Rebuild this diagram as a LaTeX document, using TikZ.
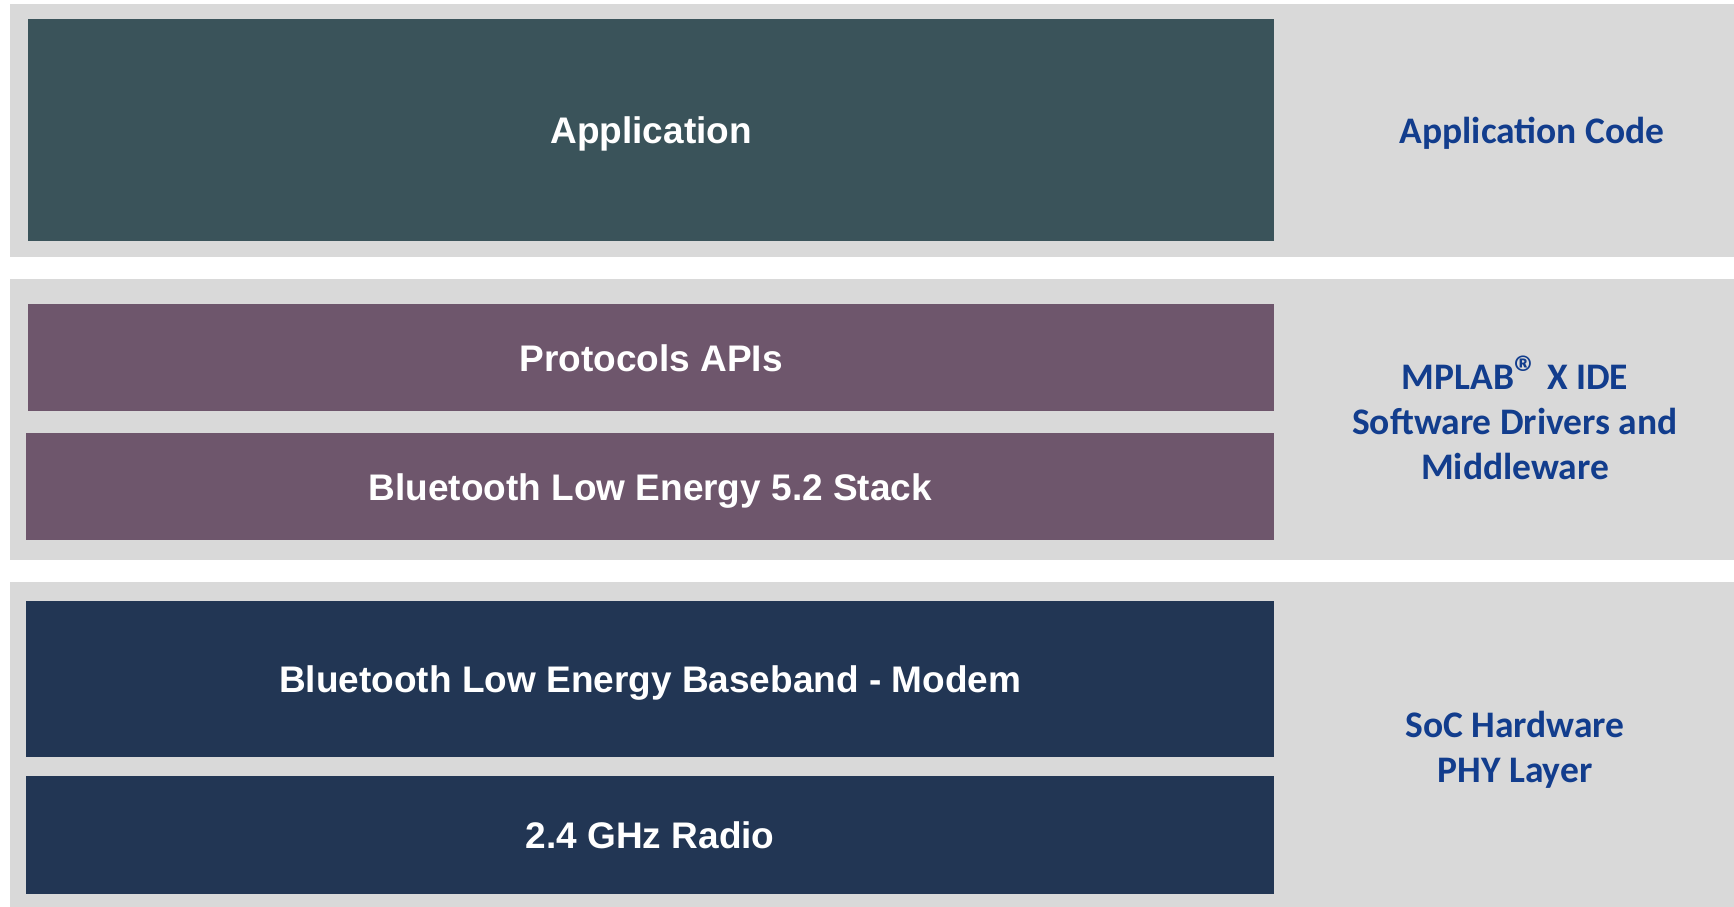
\documentclass[tikz,border=0pt]{standalone}
\usepackage{fontspec}
\usepackage{xcolor}
\usepackage{tikz}
\usetikzlibrary{positioning}
\setmainfont{Liberation Sans}
\newfontfamily\labelfont{Carlito}
\definecolor{LayerGray}{HTML}{D9D9D9}
\definecolor{AppTeal}{HTML}{3A535A}
\definecolor{StackPlum}{HTML}{6E566C}
\definecolor{HwNavy}{HTML}{223654}
\definecolor{LabelBlue}{HTML}{123D8D}
\tikzset{
  band/.style={fill=LayerGray, anchor=north west, inner sep=0pt},
  block/.style={anchor=north west, inner sep=0pt, text=white, text depth=0pt,
    font=\fontsize{37}{44}\selectfont\bfseries},
  side/.style={text=LabelBlue, align=center,
    font=\labelfont\fontsize{37.5}{45}\selectfont\bfseries}
}

\begin{document}
\begin{tikzpicture}[x=1pt, y=-1pt]
\useasboundingbox (0,0) rectangle (1734,907);
% grey bands
\node[band, minimum width=1724pt, minimum height=253pt] (appband) at (10,4) {};
\node[band, minimum width=1724pt, minimum height=281pt] (swband) at (10,279) {};
\node[band, minimum width=1724pt, minimum height=325pt] (hwband) at (10,582) {};
% stack blocks
\node[block, fill=AppTeal, minimum width=1246pt, minimum height=222pt] (app) at (28,19) {Application};
\node[block, fill=StackPlum, minimum width=1246pt, minimum height=107pt] (api) at (28,304) {Protocols APIs};
\node[block, fill=StackPlum, minimum width=1248pt, minimum height=107pt] (ble) at (26,433) {Bluetooth Low Energy 5.2 Stack};
\node[block, fill=HwNavy, minimum width=1248pt, minimum height=156pt] (modem) at (26,601) {Bluetooth Low Energy Baseband - Modem};
\node[block, fill=HwNavy, minimum width=1248pt, minimum height=118pt] (radio) at (26,776) {2.4 GHz Radio};
% labels on the right
\node[side] (appcode) at (1532,133) {Application Code};
\node[side] (mplab) at (1515,418) {MPLAB{\fontsize{48}{48}\selectfont ®} X IDE\\Software Drivers and\\Middleware};
\node[side] (soc) at (1515,750) {SoC Hardware\\PHY Layer};
\end{tikzpicture}
\end{document}
